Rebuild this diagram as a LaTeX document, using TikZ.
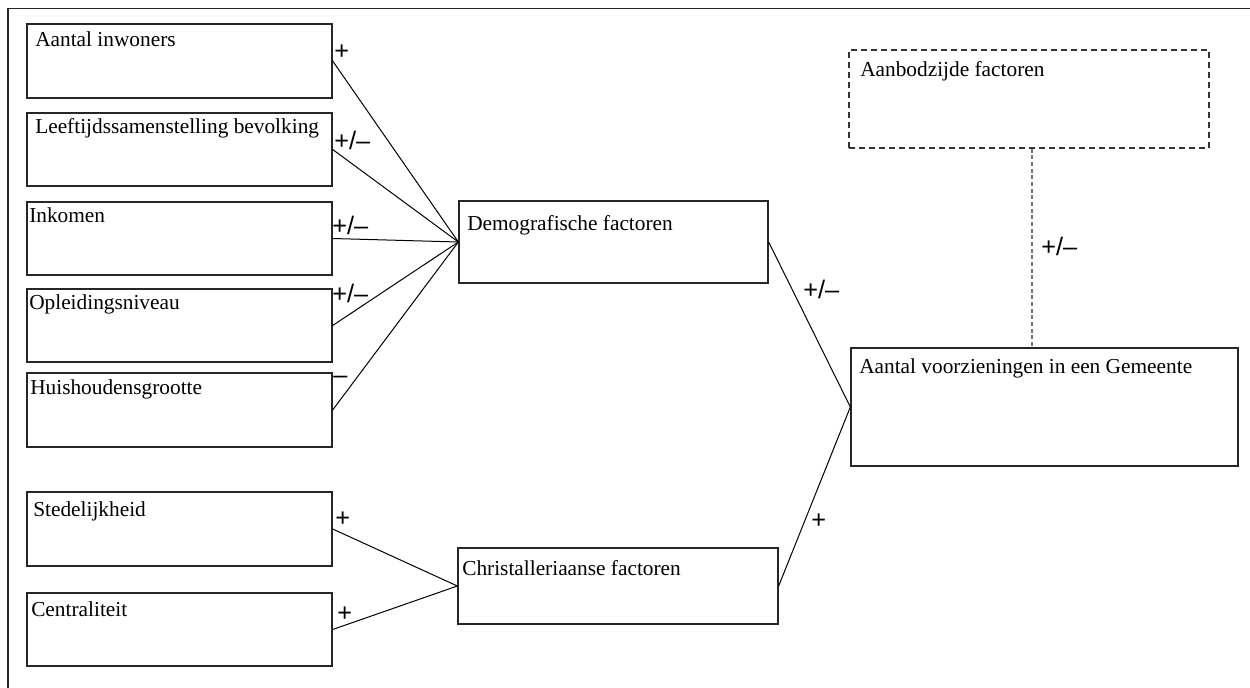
\documentclass[tikz,border=0pt]{standalone}
\usepackage{fontspec}
\setmainfont{Liberation Serif}
\newfontfamily\lblfont{Liberation Sans}
\usetikzlibrary{fit}
\begin{document}
\begin{tikzpicture}[x=0.75pt,y=-0.75pt,
  box/.style={draw=black!85, line width=1pt, inner sep=0pt, rectangle},
  dbox/.style={draw=black!80, line width=1pt, inner sep=0pt, rectangle, dash pattern=on 4.5pt off 3pt},
  txt/.style={anchor=base west, inner sep=0pt, font=\fontsize{16}{18}\selectfont},
  lbl/.style={anchor=base west, inner sep=0pt, font=\lblfont\fontsize{19}{21}\selectfont},
  link/.style={draw=black, line width=0.75pt},
  dlink/.style={draw=black!55, line width=1.5pt, dash pattern=on 3pt off 2pt}]
\useasboundingbox (0,0) rectangle (1250,688);
% outer frame
\draw[line width=1pt, black!85] (8,700) -- (8,8.5) -- (1260,8.5);
% left boxes
\node[box, fit={(27,24) (332,98)}] (inw) {};
\node[box, fit={(27,113) (332,186)}] (lft) {};
\node[box, fit={(27,202) (332,275)}] (ink) {};
\node[box, fit={(27,289) (332,362)}] (opl) {};
\node[box, fit={(27,373) (332,447)}] (hhg) {};
\node[box, fit={(27,492) (332,566)}] (std) {};
\node[box, fit={(27,593) (332,666)}] (cen) {};
% middle boxes
\node[box, fit={(459,201) (768,283)}] (dem) {};
\node[box, fit={(458,548) (778,624)}] (chr) {};
% right boxes
\node[box, fit={(851,348) (1238,466)}] (av) {};
\node[dbox, fit={(849,50) (1209,148)}] (aan) {};
% texts
\node[txt] (tinw) at (35,47) {Aantal inwoners};
\node[txt] (tlft) at (35,134) {Leeftijdssamenstelling bevolking};
\node[txt] (tink) at (29,223) {Inkomen};
\node[txt] (topl) at (29,309) {Opleidingsniveau};
\node[txt] (thhg) at (30,394) {Huishoudensgrootte};
\node[txt] (tstd) at (33,516) {Stedelijkheid};
\node[txt] (tcen) at (31,616) {Centraliteit};
\node[txt] (tdem) at (467,230) {Demografische factoren};
\node[txt] (tchr) at (462,575) {Christalleriaanse factoren};
\node[txt] (tav) at (859,373) {Aantal voorzieningen in een Gemeente};
\node[txt] (taan) at (860,77) {Aanbodzijde factoren};
% connectors
\draw[link] (inw.east) -- (dem.west);
\draw[link] (lft.east) -- (dem.west);
\draw[link] (ink.east) -- (dem.west);
\draw[link] (opl.east) -- (dem.west);
\draw[link] (hhg.east) -- (dem.west);
\draw[link] (std.east) -- (chr.west);
\draw[link] (cen.east) -- (chr.west);
\draw[link] (dem.east) -- (av.west);
\draw[link] (chr.east) -- (av.west);
\coordinate (dtop) at ([xshift=2]aan.south);
\draw[dlink] (dtop) -- (dtop |- av.north);
% labels
\node[lbl] (l1) at (334,60) {+};
\node[lbl] (l2) at (334,150) {+/–};
\node[lbl] (l3) at (332,234) {+/–};
\node[lbl] (l4) at (332,302) {+/–};
\node[lbl] (l5) at (333,383) {–};
\node[lbl] (l6) at (335,526) {+};
\node[lbl] (l7) at (337,621) {+};
\node[lbl] (l8) at (803,298) {+/–};
\node[lbl] (l9) at (811,528) {+};
\node[lbl] (l10) at (1041,255) {+/–};
\end{tikzpicture}
\end{document}
